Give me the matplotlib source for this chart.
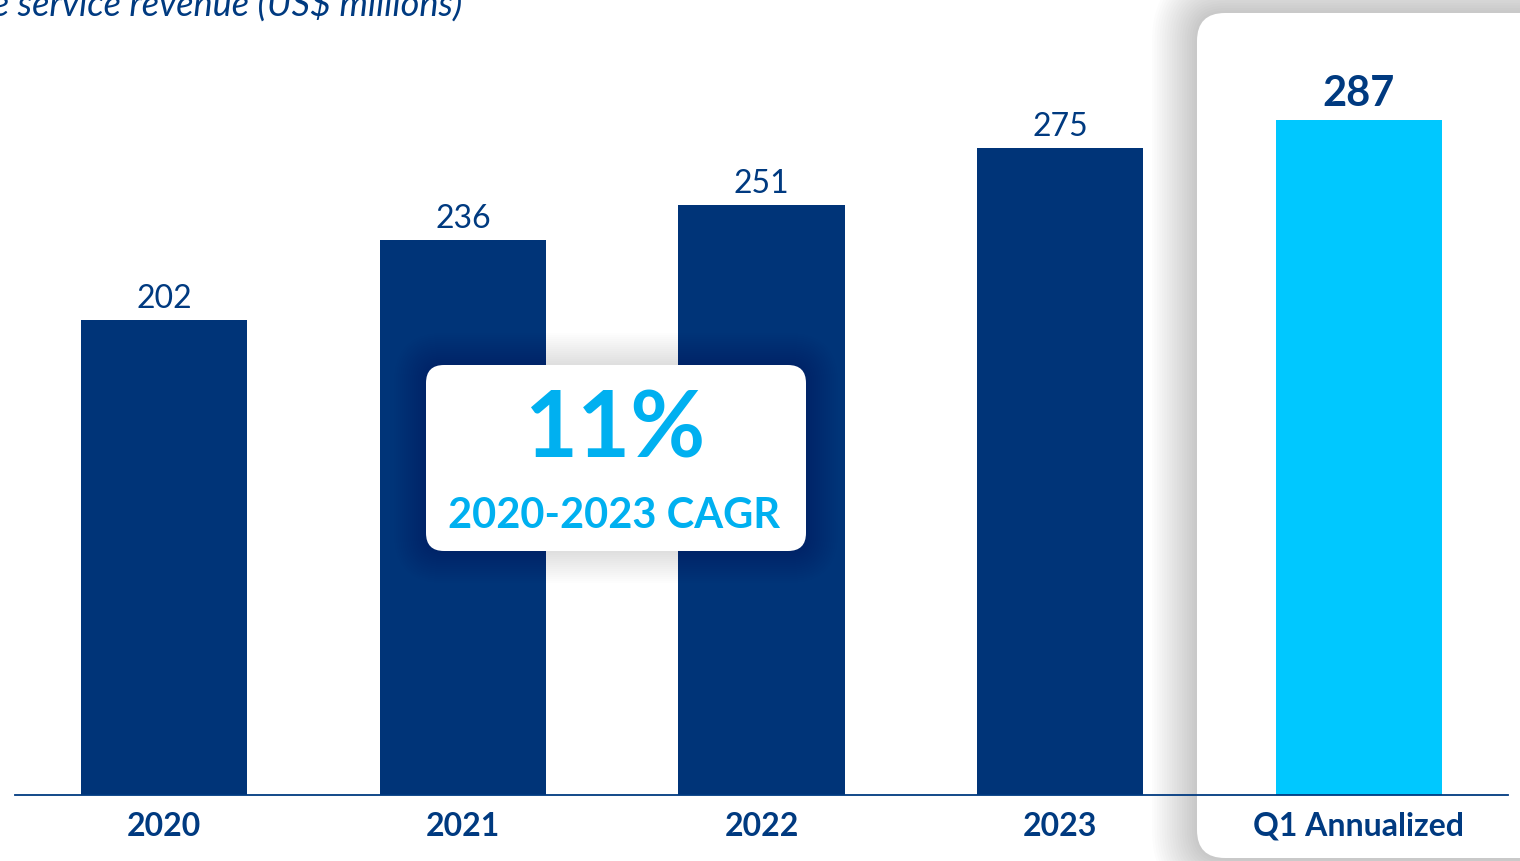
import matplotlib
matplotlib.use('Agg')
import matplotlib.pyplot as plt
import matplotlib.transforms as mtransforms
from matplotlib.patches import FancyBboxPatch

# service revenue, US$ millions
years = ['2020', '2021', '2022', '2023', 'Q1 Annualized']
revenue = [202, 236, 251, 275, 287]
cagr_label = '11%'
cagr_period = '2020-2023 CAGR'
title = 'Wholesale service revenue (US$ millions)'

dark_blue = '#003478'
text_blue = '#003A80'
bright = '#00C8FF'
cagr_blue = '#00B0F0'

plt.rcParams['font.family'] = ['Lato', 'DejaVu Sans']

W, H = 1520, 861
fig = plt.figure(figsize=(W / 100, H / 100), dpi=100)
px = mtransforms.IdentityTransform()


def rounded(x, y, w, h, r, z, color='white', alpha=1.0, pad=0.0):
    p = FancyBboxPatch((x, y), w, h, boxstyle=f'round,pad={pad},rounding_size={r + pad}',
                       transform=px, facecolor=color, edgecolor='none', alpha=alpha, zorder=z)
    fig.add_artist(p)


def shadow(x, y, w, h, r, spread, z, layers=18, alpha=0.012):
    for i in range(layers):
        rounded(x, y, w, h, r, z, color='black', alpha=alpha, pad=spread * (i + 1) / layers)


# highlight card behind the annualized bar
shadow(1197, 3, 380, 845, 28, 45, -3, alpha=0.013)
rounded(1197, 3, 380, 845, 28, -2)

ax = fig.add_axes([15 / W, 66 / H, 1493 / W, 795 / H])
ax.patch.set_visible(False)
x = range(len(years))
colors = [dark_blue] * (len(years) - 1) + [bright]
bars = ax.bar(x, revenue, width=0.556, color=colors, zorder=2)
ax.set_xlim(-0.5, len(years) - 0.5)
ax.set_ylim(0, 338)

for i, (b, v) in enumerate(zip(bars, revenue)):
    last = i == len(years) - 1
    ax.annotate(str(v), (b.get_x() + b.get_width() / 2, v), xytext=(0, 10 if last else 8.5),
                textcoords='offset points', ha='center', va='baseline', color=text_blue,
                fontsize=30 if last else 23, fontweight='bold' if last else 'normal')

for s in ['top', 'right', 'left']:
    ax.spines[s].set_visible(False)
ax.spines['bottom'].set_color(text_blue)
ax.spines['bottom'].set_linewidth(1.3)
ax.set_yticks([])
ax.set_xticks(list(x))
ax.set_xticklabels(years, fontsize=23, fontweight='bold', color=text_blue)
ax.tick_params(axis='x', length=0, pad=12)

fig.text(462, 845, title, transform=px, ha='right', va='baseline', fontsize=26,
         style='italic', color=text_blue)

# CAGR call-out box
shadow(426, 310, 380, 186, 18, 32, 5, layers=16, alpha=0.008)
rounded(426, 310, 380, 186, 18, 6)
fig.text(615, 403, cagr_label, transform=px, ha='center', va='baseline', fontsize=66,
         fontweight='bold', color=cagr_blue, zorder=7)
fig.text(614, 333, cagr_period, transform=px, ha='center', va='baseline', fontsize=30,
         fontweight='bold', color=cagr_blue, zorder=7)

fig.savefig('out.png', dpi=100)
